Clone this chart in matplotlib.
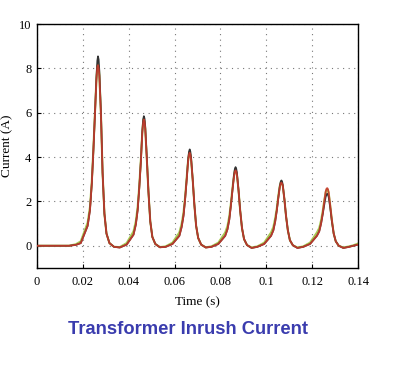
import matplotlib
matplotlib.use("Agg")
import matplotlib.pyplot as plt

# Time samples (s), shared by all three traces
time_s = [
    0.0000, 0.0050, 0.0100, 0.0140,
    0.0170, 0.0191, 0.0221, 0.0231, 0.0239, 0.0246, 0.0253, 0.0259, 0.0263, 0.0266,
    0.0269, 0.0272, 0.0279, 0.0286, 0.0294, 0.0303, 0.0316, 0.0336, 0.0361,
    0.0391, 0.0421, 0.0431, 0.0439, 0.0446, 0.0453, 0.0459, 0.0463, 0.0466,
    0.0469, 0.0472, 0.0479, 0.0486, 0.0494, 0.0503, 0.0516, 0.0536, 0.0561,
    0.0591, 0.0621, 0.0631, 0.0639, 0.0646, 0.0653, 0.0659, 0.0663, 0.0666,
    0.0669, 0.0672, 0.0679, 0.0686, 0.0694, 0.0703, 0.0716, 0.0736, 0.0761,
    0.0791, 0.0821, 0.0831, 0.0839, 0.0846, 0.0853, 0.0859, 0.0863, 0.0866,
    0.0869, 0.0872, 0.0879, 0.0886, 0.0894, 0.0903, 0.0916, 0.0936, 0.0961,
    0.0991, 0.1021, 0.1031, 0.1039, 0.1046, 0.1053, 0.1059, 0.1063, 0.1066,
    0.1069, 0.1072, 0.1079, 0.1086, 0.1094, 0.1103, 0.1116, 0.1136, 0.1161,
    0.1191, 0.1221, 0.1231, 0.1239, 0.1246, 0.1253, 0.1259, 0.1263, 0.1266,
    0.1269, 0.1272, 0.1279, 0.1286, 0.1294, 0.1303, 0.1316, 0.1336, 0.1361,
    0.1380, 0.1400,
]

# measured current (A), black trace
measured = [
    0.00, 0.00, 0.00, 0.00,
    0.04, 0.12, 0.90, 1.60, 2.80, 4.30, 6.00, 7.60, 8.35, 8.55,
    8.40, 7.90, 6.00, 3.30, 1.45, 0.55, 0.12, -0.05, -0.08,
    0.05, 0.50, 0.95, 1.60, 2.60, 3.80, 5.15, 5.70, 5.85,
    5.75, 5.40, 4.00, 2.45, 1.10, 0.40, 0.08, -0.07, -0.05,
    0.08, 0.45, 0.85, 1.35, 2.10, 3.00, 3.90, 4.25, 4.35,
    4.25, 4.00, 3.00, 1.90, 0.90, 0.35, 0.05, -0.08, -0.05,
    0.08, 0.45, 0.75, 1.20, 1.85, 2.55, 3.20, 3.48, 3.55,
    3.48, 3.30, 2.50, 1.60, 0.80, 0.30, 0.03, -0.10, -0.05,
    0.08, 0.45, 0.70, 1.10, 1.60, 2.20, 2.70, 2.90, 2.95,
    2.90, 2.75, 2.10, 1.35, 0.70, 0.25, 0.02, -0.10, -0.05,
    0.08, 0.45, 0.65, 1.00, 1.40, 1.85, 2.20, 2.32, 2.35,
    2.30, 2.20, 1.70, 1.10, 0.55, 0.20, 0.00, -0.10, -0.05,
    0.00, 0.05,
]

# simulated current (A), red trace
simulated = [
    0.00, 0.00, 0.00, 0.00,
    0.04, 0.12, 0.90, 1.60, 2.80, 4.30, 6.00, 7.45, 8.05, 8.15,
    8.00, 7.65, 5.90, 3.30, 1.45, 0.55, 0.12, -0.05, -0.08,
    0.05, 0.50, 0.95, 1.60, 2.60, 3.80, 5.05, 5.55, 5.70,
    5.60, 5.30, 3.90, 2.45, 1.10, 0.40, 0.08, -0.07, -0.05,
    0.08, 0.45, 0.85, 1.35, 2.10, 3.00, 3.80, 4.12, 4.20,
    4.10, 3.90, 3.00, 1.90, 0.90, 0.35, 0.05, -0.08, -0.05,
    0.08, 0.45, 0.75, 1.20, 1.85, 2.55, 3.10, 3.35, 3.40,
    3.35, 3.20, 2.50, 1.60, 0.80, 0.30, 0.03, -0.10, -0.05,
    0.08, 0.45, 0.70, 1.10, 1.60, 2.20, 2.65, 2.82, 2.85,
    2.80, 2.70, 2.10, 1.35, 0.70, 0.25, 0.02, -0.10, -0.05,
    0.08, 0.45, 0.65, 1.00, 1.45, 2.00, 2.45, 2.58, 2.60,
    2.55, 2.40, 1.80, 1.15, 0.55, 0.20, 0.00, -0.10, -0.05,
    0.00, 0.05,
]

# second model (A), green trace, mostly hidden under the red one
model_b = [
    0.00, 0.00, 0.00, 0.00,
    0.07, 0.20, 1.05, 1.75, 2.90, 4.40, 6.05, 7.50, 8.10, 8.20,
    8.05, 7.70, 5.90, 3.30, 1.45, 0.55, 0.12, -0.05, -0.06,
    0.12, 0.65, 1.10, 1.75, 2.70, 3.90, 5.10, 5.60, 5.75,
    5.60, 5.30, 3.90, 2.45, 1.10, 0.40, 0.08, -0.06, -0.03,
    0.14, 0.60, 1.00, 1.50, 2.20, 3.10, 3.85, 4.15, 4.25,
    4.10, 3.90, 3.00, 1.90, 0.90, 0.35, 0.05, -0.07, -0.03,
    0.14, 0.60, 0.90, 1.35, 1.95, 2.65, 3.15, 3.40, 3.45,
    3.35, 3.20, 2.50, 1.60, 0.80, 0.30, 0.03, -0.08, -0.03,
    0.14, 0.60, 0.85, 1.25, 1.70, 2.30, 2.70, 2.85, 2.90,
    2.80, 2.70, 2.10, 1.35, 0.70, 0.25, 0.02, -0.08, -0.03,
    0.14, 0.60, 0.80, 1.15, 1.55, 2.05, 2.40, 2.52, 2.55,
    2.50, 2.40, 1.80, 1.15, 0.55, 0.20, 0.00, -0.08, -0.03,
    0.02, 0.10,
]

x_ticks = [0, 0.02, 0.04, 0.06, 0.08, 0.1, 0.12, 0.14]
x_tick_labels = ["0", "0.02", "0.04", "0.06", "0.08", "0.1", "0.12", "0.14"]
y_ticks = [0, 2, 4, 6, 8, 10]


def main() -> None:
    serif = ["Liberation Serif", "DejaVu Serif"]
    fig = plt.figure(figsize=(4.0, 3.66), dpi=100)
    ax = fig.add_axes([0.0925, 0.268, 0.8025, 0.666])

    ax.plot(time_s, model_b, color="#a8c850", lw=1.5, zorder=2)
    ax.plot(time_s, measured, color="#333333", lw=1.2, zorder=3)
    ax.plot(time_s, simulated, color="#c63a2c", lw=1.3, alpha=0.9, zorder=4)

    ax.set_xlim(0, 0.14)
    ax.set_ylim(-1, 10)
    ax.set_xticks(x_ticks)
    ax.set_xticklabels(x_tick_labels, fontfamily=serif, fontsize=9)
    ax.set_yticks(y_ticks)
    ax.set_yticklabels([str(v) for v in y_ticks], fontfamily=serif, fontsize=9)
    ax.tick_params(axis="x", direction="in", length=3, width=0.8, pad=6)
    ax.tick_params(axis="y", direction="in", length=3, width=0.8, pad=4)

    ax.grid(True, color="#777777", linestyle=(0, (1, 4)), linewidth=0.8)
    for spine in ax.spines.values():
        spine.set_linewidth(1.0)
        spine.set_color("black")

    ax.set_xlabel("Time (s)", fontfamily=serif, fontsize=9.5, labelpad=6)
    ax.set_ylabel("Current (A)", fontfamily=serif, fontsize=9.5, labelpad=4)

    fig.text(0.469, 0.101, "Transformer Inrush Current", color="#3a3cae",
             fontsize=13.2, fontweight="bold",
             fontfamily=["Liberation Sans", "DejaVu Sans"],
             ha="center", va="center")

    fig.savefig("out.png", dpi=100)


if __name__ == "__main__":
    main()
